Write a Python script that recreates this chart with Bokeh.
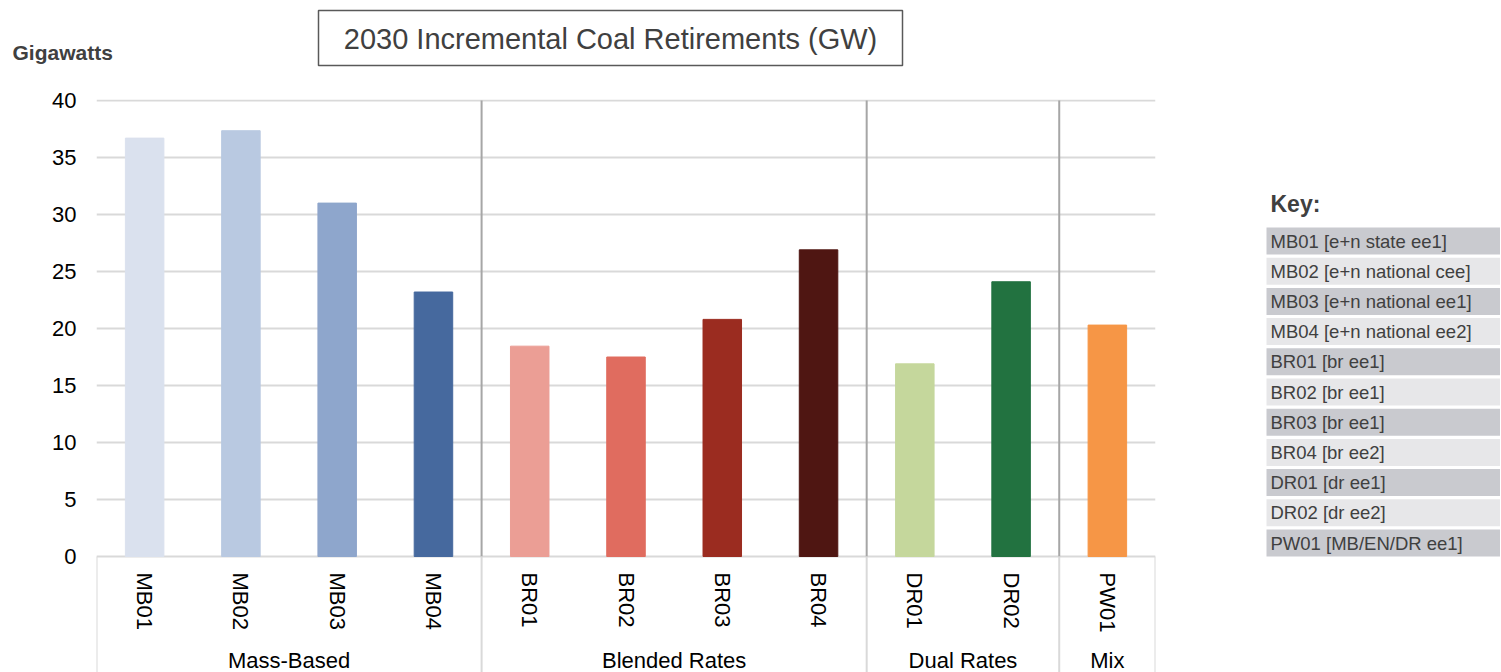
import math
from bokeh.plotting import figure
from bokeh.layouts import row, column
from bokeh.models import Range1d, FactorRange, FixedTicker, ColumnDataSource
from bokeh.core.properties import value
from bokeh.embed import file_html
from bokeh.resources import INLINE

# ---------------- data ----------------
codes = ["MB01", "MB02", "MB03", "MB04", "BR01", "BR02", "BR03", "BR04", "DR01", "DR02", "PW01"]
gigawatts = [36.7, 37.35, 31.0, 23.2, 18.45, 17.5, 20.8, 26.9, 16.9, 24.1, 20.3]
bar_colors = ["#dae1ee", "#b9c9e1", "#8ea6cc", "#46699e",
              "#eb9e95", "#e06c5f", "#9b2c20", "#4f1612",
              "#c5d79c", "#227240", "#f69646"]
groups = ["Mass-Based", "Blended Rates", "Dual Rates", "Mix"]
group_counts = [4, 4, 2, 1]
key_labels = ["MB01 [e+n state ee1]", "MB02 [e+n national cee]", "MB03 [e+n national ee1]",
              "MB04 [e+n national ee2]", "BR01 [br ee1]", "BR02 [br ee1]", "BR03 [br ee1]",
              "BR04 [br ee2]", "DR01 [dr ee1]", "DR02 [dr ee2]", "PW01 [MB/EN/DR ee1]"]
y_ticks = [0, 5, 10, 15, 20, 25, 30, 35, 40]
title_text = "2030 Incremental Coal Retirements (GW)"
y_label = "Gigawatts"
key_title = "Key:"

FONT = "Liberation Sans"
TEXT_GRAY = "#404040"

# ---------------- main chart ----------------
PX = 456 / 40.0                 # pixels per gigawatt
y_top = y_ticks[-1] + 1 / PX
y_bottom = -116 / PX

p = figure(width=1200, height=584,
           x_range=FactorRange(factors=codes, factor_padding=0, range_padding=0),
           y_range=Range1d(y_bottom, y_top),
           output_backend="svg", toolbar_location=None, x_axis_location=None,
           min_border_left=96, min_border_right=45, min_border_top=11, min_border_bottom=0)
p.outline_line_color = None
p.background_fill_color = "white"
p.border_fill_color = "white"

p.yaxis.ticker = FixedTicker(ticks=y_ticks)
p.yaxis.axis_line_color = None
p.yaxis.major_tick_line_color = None
p.yaxis.minor_tick_line_color = None
p.yaxis.major_label_standoff = 14
p.yaxis.major_label_text_font = FONT
p.yaxis.major_label_text_font_size = "22px"
p.yaxis.major_label_text_color = "black"
p.ygrid.ticker = FixedTicker(ticks=y_ticks)
p.ygrid.grid_line_color = "#d9d9d9"
p.ygrid.grid_line_width = 2
p.xgrid.visible = False

src = ColumnDataSource(dict(code=codes, gw=gigawatts, color=bar_colors))
p.vbar(x="code", top="gw", width=0.4, color="color", source=src)

# group boundaries and centres (synthetic categorical coordinates)
bounds = [0]
for c in group_counts:
    bounds.append(bounds[-1] + c)
centers = [(bounds[i] + bounds[i + 1]) / 2 for i in range(len(group_counts))]
inner = bounds[1:-1]

p.segment(x0=inner, x1=inner, y0=[0] * len(inner), y1=[y_ticks[-1]] * len(inner),
          line_color="#a6a6a6", line_width=2)
p.segment(x0=bounds, x1=bounds, y0=[y_bottom] * len(bounds), y1=[0] * len(bounds),
          line_color="#d9d9d9", line_width=2)

p.text(x=codes, y=[-16 / PX] * len(codes), text=codes, angle=-math.pi / 2,
       text_align="left", text_baseline="middle", text_font=value(FONT),
       text_font_size="22px", text_color="black")
p.text(x=centers, y=[-104 / PX] * len(centers), text=groups,
       text_align="center", text_baseline="middle", text_font=value(FONT),
       text_font_size="22px", text_color="black")

# ---------------- header strip ----------------
top = figure(width=1500, height=88, x_range=Range1d(0, 1500), y_range=Range1d(88, 0),
             output_backend="svg", toolbar_location=None,
             x_axis_location=None, y_axis_location=None, min_border=0)
top.outline_line_color = None
top.grid.visible = False
top.quad(left=[318], right=[902], top=[10], bottom=[65], fill_color=None,
         line_color="#595959", line_width=1.5)
top.text(x=[610], y=[38], text=[title_text], text_align="center", text_baseline="middle",
         text_font=value(FONT), text_font_size="29px", text_color=TEXT_GRAY)
top.text(x=[12], y=[52], text=[y_label], text_align="left", text_baseline="middle",
         text_font=value(FONT), text_font_size="21px", text_font_style="bold",
         text_color=TEXT_GRAY)

# ---------------- key ----------------
# its frame is aligned with the main chart's frame (page y 99 .. 672)
key = figure(width=300, height=584, x_range=Range1d(1200, 1500), y_range=Range1d(672, 99),
             output_backend="svg", toolbar_location=None,
             x_axis_location=None, y_axis_location=None,
             min_border_left=0, min_border_right=0, min_border_top=11, min_border_bottom=0)
key.outline_line_color = None
key.grid.visible = False
row_tops = [227 + 30.2 * i for i in range(len(key_labels))]
row_bottoms = [t + 27 for t in row_tops]
row_colors = ["#c9cacf" if i % 2 == 0 else "#e7e7e9" for i in range(len(key_labels))]
key.quad(left=[1266] * len(key_labels), right=[1500] * len(key_labels),
         top=row_tops, bottom=row_bottoms, fill_color=row_colors, line_color=None)
key.text(x=[1270] * len(key_labels), y=[t + 13.5 for t in row_tops], text=key_labels,
         text_align="left", text_baseline="middle", text_font=value(FONT),
         text_font_size="18.5px", text_color=TEXT_GRAY)
key.text(x=[1270], y=[203], text=[key_title], text_align="left", text_baseline="middle",
         text_font=value(FONT), text_font_size="23px", text_font_style="bold",
         text_color=TEXT_GRAY)

layout = column(top, row(p, key))
open("out.html", "w").write(file_html(layout, INLINE))
